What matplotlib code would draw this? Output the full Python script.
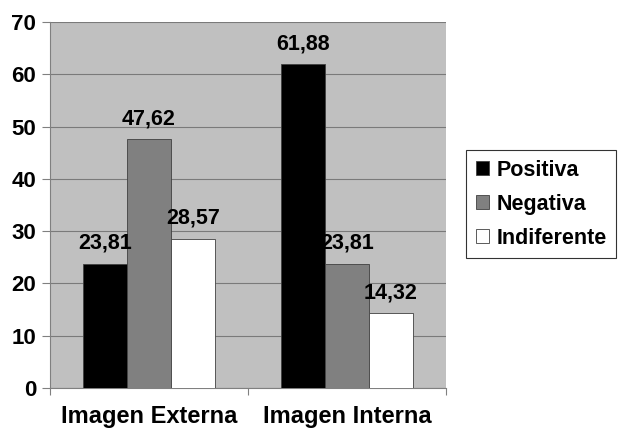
import matplotlib
matplotlib.use("Agg")
import matplotlib.pyplot as plt
import numpy as np

categories = ["Imagen Externa", "Imagen Interna"]
series_names = ["Positiva", "Negativa", "Indiferente"]
positiva = [23.81, 61.88]
negativa = [47.62, 23.81]
indiferente = [28.57, 14.32]
value_labels = [["23,81", "61,88"], ["47,62", "23,81"], ["28,57", "14,32"]]
yticks = [0, 10, 20, 30, 40, 50, 60, 70]

plt.rcParams['font.family'] = ['Liberation Sans', 'DejaVu Sans']
plt.rcParams['font.weight'] = 'bold'

fig = plt.figure(figsize=(6.19, 4.33), dpi=100)
ax = fig.add_axes([50/619, 1-388/433, 396/619, 366/433])
ax.set_facecolor('#C0C0C0')

colors = ['#000000', '#808080', '#FFFFFF']
data = [positiva, negativa, indiferente]
x = np.arange(len(categories))
w = 0.222
for i, (vals, c, name) in enumerate(zip(data, colors, series_names)):
    pos = x + (i - 1) * w
    bars = ax.bar(pos, vals, width=w, color=c, edgecolor='#404040', linewidth=0.6,
                  label=name, zorder=3)
    for b, lab in zip(bars, value_labels[i]):
        ax.annotate(lab, (b.get_x() + b.get_width()/2, b.get_height()),
                    xytext=(0, 7), textcoords='offset points', ha='center', va='bottom',
                    fontsize=15.5, fontweight='bold', zorder=5)

ax.set_xlim(-0.5, 1.5)
ax.set_ylim(0, 70)
ax.set_yticks(yticks)
ax.set_yticklabels([str(t) for t in yticks], fontsize=16, fontweight='bold')
ax.yaxis.grid(True, color='#7a7a7a', linewidth=0.8, zorder=0)
ax.set_axisbelow(True)

ax.set_xticks([-0.5, 0.5, 1.5])
ax.set_xticklabels([])
ax.set_xticks(x, minor=True)
ax.set_xticklabels(categories, minor=True, fontsize=17, fontweight='bold')
ax.tick_params(axis='x', which='minor', length=0, pad=12)
ax.tick_params(axis='x', which='major', length=5, color='#808080', direction='out')
ax.tick_params(axis='y', length=6, color='#808080', pad=4)

for s in ['top', 'right']:
    ax.spines[s].set_visible(False)
ax.spines['left'].set_color('#808080')
ax.spines['bottom'].set_color('#808080')
ax.spines['left'].set_linewidth(0.8)
ax.spines['bottom'].set_linewidth(0.8)

leg = fig.legend(loc='upper left', bbox_to_anchor=(466/619, 1-150/433),
                 fontsize=15.5, frameon=True, fancybox=False, edgecolor='#000000',
                 handlelength=0.6, handleheight=0.6, handletextpad=0.35,
                 borderpad=0.45, labelspacing=0.6, borderaxespad=0)
leg.get_frame().set_linewidth(0.8)
for t in leg.get_texts():
    t.set_fontweight('bold')

fig.savefig('out.png', dpi=100, facecolor='white')
